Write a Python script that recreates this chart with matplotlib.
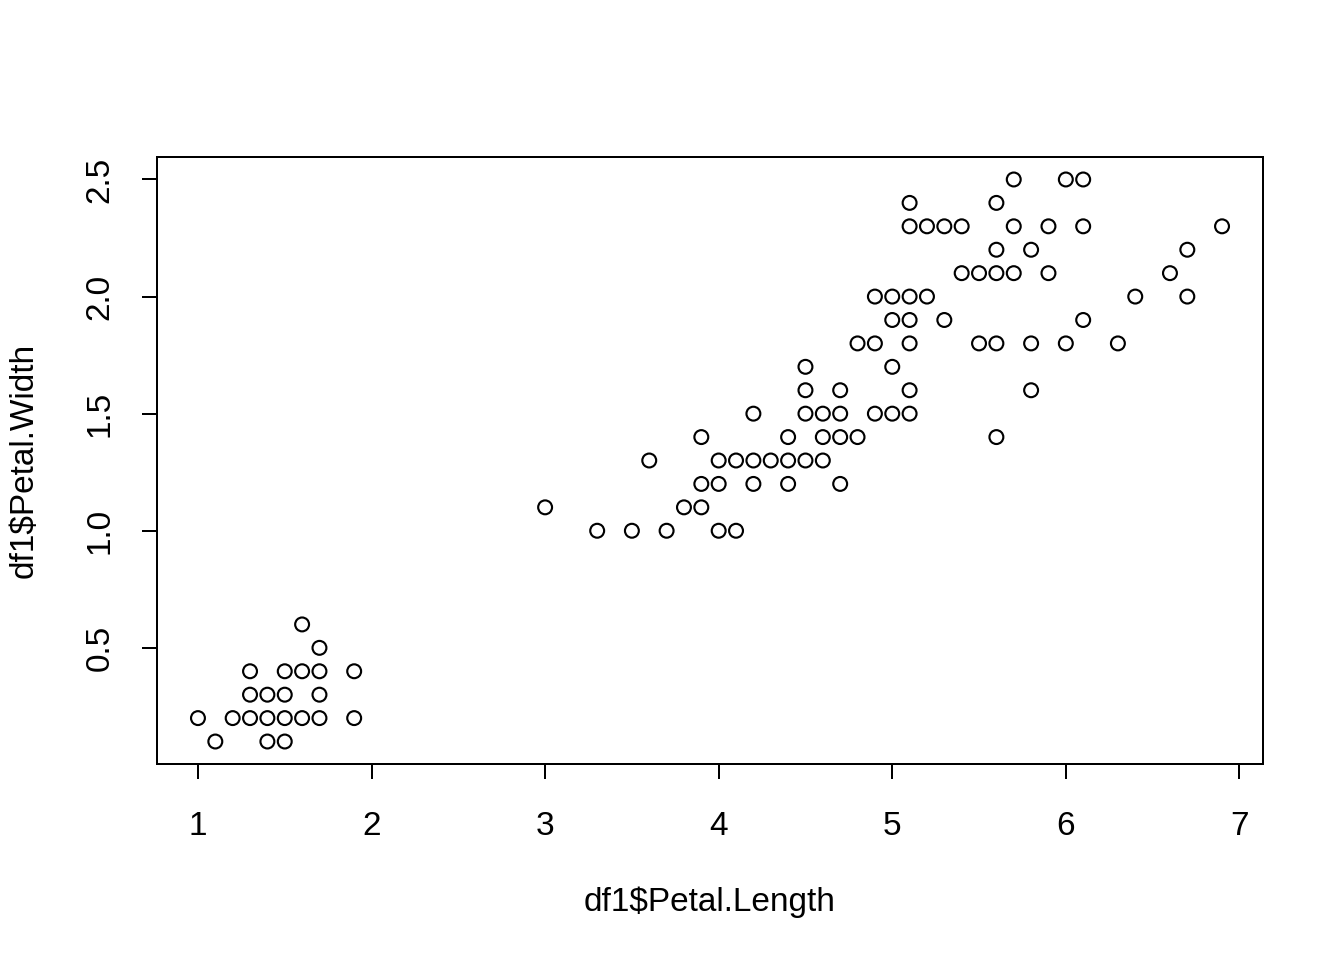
import matplotlib
matplotlib.use("Agg")
import matplotlib.pyplot as plt

plt.rcParams['font.family'] = ['Liberation Sans', 'DejaVu Sans']

# (petal length, petal width) pairs, grouped by width
rows = {
    0.1: [1.1, 1.4, 1.5],
    0.2: [1.0, 1.2, 1.3, 1.4, 1.5, 1.6, 1.7, 1.9],
    0.3: [1.3, 1.4, 1.5, 1.7],
    0.4: [1.3, 1.5, 1.6, 1.7, 1.9],
    0.5: [1.7],
    0.6: [1.6],
    1.0: [3.3, 3.5, 3.7, 4.0, 4.1],
    1.1: [3.0, 3.8, 3.9],
    1.2: [3.9, 4.0, 4.2, 4.4, 4.7],
    1.3: [3.6, 4.0, 4.1, 4.2, 4.3, 4.4, 4.5, 4.6],
    1.4: [3.9, 4.4, 4.6, 4.7, 4.8, 5.6],
    1.5: [4.2, 4.5, 4.6, 4.7, 4.9, 5.0, 5.1],
    1.6: [4.5, 4.7, 5.1, 5.8],
    1.7: [4.5, 5.0],
    1.8: [4.8, 4.9, 5.1, 5.5, 5.6, 5.8, 6.0, 6.3],
    1.9: [5.0, 5.1, 5.3, 6.1],
    2.0: [4.9, 5.0, 5.1, 5.2, 6.4, 6.7],
    2.1: [5.4, 5.5, 5.6, 5.7, 5.9, 6.6],
    2.2: [5.6, 5.8, 6.7],
    2.3: [5.1, 5.2, 5.3, 5.4, 5.7, 5.9, 6.1, 6.9],
    2.4: [5.1, 5.6],
    2.5: [5.7, 6.0, 6.1],
}

petal_length = []
petal_width = []
for w, lengths in rows.items():
    for l in lengths:
        petal_length.append(l)
        petal_width.append(w)

x_ticks = [1, 2, 3, 4, 5, 6, 7]
y_ticks = [0.5, 1.0, 1.5, 2.0, 2.5]

fig = plt.figure(figsize=(7, 5), dpi=192)
ax = fig.add_axes([157 / 1344, 1 - 764 / 960, (1263 - 157) / 1344, (764 - 157) / 960])

ax.scatter(petal_length, petal_width, s=5.2 ** 2, facecolors='none',
           edgecolors='black', linewidths=0.8)

# R style 4% padding
xmin, xmax = 1.0, 6.9
ymin, ymax = 0.1, 2.5
px = (xmax - xmin) * 0.04
py = (ymax - ymin) * 0.04
ax.set_xlim(xmin - px, xmax + px)
ax.set_ylim(ymin - py, ymax + py)

ax.set_xticks(x_ticks)
ax.set_xticklabels([str(t) for t in x_ticks])
ax.set_yticks(y_ticks)
ax.set_yticklabels(['%.1f' % t for t in y_ticks], rotation=90, va='center')

for s in ax.spines.values():
    s.set_linewidth(0.75)
ax.tick_params(direction='out', length=5.5, width=0.75, labelsize=12.5)
ax.tick_params(axis='x', pad=12)
ax.tick_params(axis='y', pad=10)

ax.set_xlabel('df1$Petal.Length', fontsize=12.5, labelpad=17)
ax.set_ylabel('df1$Petal.Width', fontsize=12.5, labelpad=17)

fig.savefig('out.png', dpi=192)
